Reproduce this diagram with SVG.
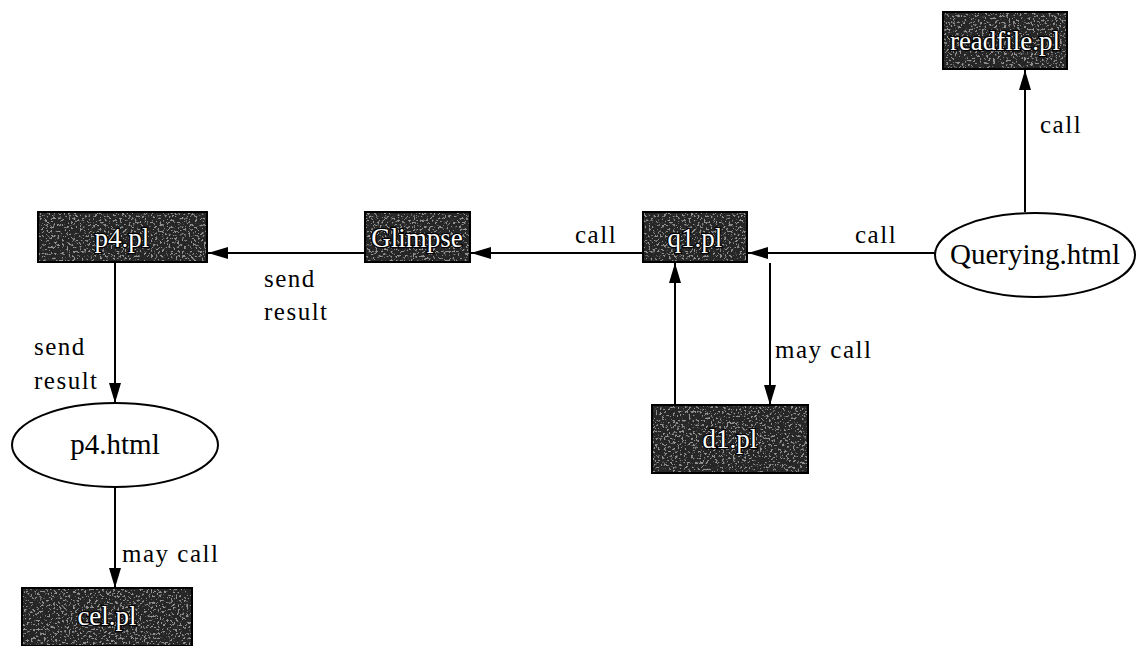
<svg xmlns="http://www.w3.org/2000/svg" width="1137" height="646" viewBox="0 0 1137 646">
<style>
.box{fill:#262626;stroke:#000;stroke-width:2}
.spk{filter:url(#noise);opacity:0.6}
.bt{font-family:"Liberation Serif",serif;font-size:27px;fill:#ffffff;stroke:#000;stroke-width:2.5;paint-order:stroke;text-anchor:middle}
.ell{fill:#fff;stroke:#000;stroke-width:2}
.et{font-family:"Liberation Serif",serif;font-size:29px;fill:#000;text-anchor:middle}
.lbl{font-family:"Liberation Serif",serif;font-size:25px;letter-spacing:1.5px;fill:#000}
.c{stroke:#000;stroke-width:2;fill:none;marker-end:url(#ah)}
</style>
<defs>
<marker id="ah" viewBox="0 0 20 12" refX="20" refY="6" markerWidth="20" markerHeight="12" markerUnits="userSpaceOnUse" orient="auto">
<path d="M0,0 L20,6 L0,12 Z" fill="#000"/>
</marker>
<filter id="noise" x="0" y="0" width="100%" height="100%" color-interpolation-filters="sRGB">
<feTurbulence type="fractalNoise" baseFrequency="0.45" numOctaves="2" seed="5" result="t"/>
<feColorMatrix in="t" type="matrix" values="0 0 0 0 0.85  0 0 0 0 0.85  0 0 0 0 0.85  12 0 0 0 -6.9"/>
</filter>
</defs>
<rect width="1137" height="646" fill="#fff"/>
<g id="connectors">
<line class="c" x1="1025" y1="212" x2="1025" y2="70"/>
<line class="c" x1="935" y1="253" x2="748" y2="253"/>
<line class="c" x1="643" y1="253" x2="471" y2="253"/>
<line class="c" x1="365" y1="253" x2="208" y2="253"/>
<line class="c" x1="115" y1="263" x2="115" y2="403"/>
<line class="c" x1="115" y1="488" x2="115" y2="588"/>
<line class="c" x1="770" y1="263" x2="770" y2="405"/>
<line class="c" x1="675" y1="405" x2="675" y2="263"/>
<text class="lbl" x="1040" y="133">call</text>
<text class="lbl" x="855" y="243">call</text>
<text class="lbl" x="575" y="243">call</text>
<text class="lbl" x="264" y="287">send</text>
<text class="lbl" x="264" y="320">result</text>
<text class="lbl" x="34" y="355">send</text>
<text class="lbl" x="34" y="389">result</text>
<text class="lbl" x="775" y="358">may call</text>
<text class="lbl" x="122" y="562">may call</text>
</g>
<g id="readfile"><rect class="box" x="943" y="12" width="124" height="57"/><rect class="spk" x="944" y="13" width="122" height="55"/><text class="bt" x="1005" y="50">readfile.pl</text></g>
<g id="querying"><ellipse class="ell" cx="1035" cy="255" rx="100" ry="42"/><text class="et" x="1035" y="264">Querying.html</text></g>
<g id="q1"><rect class="box" x="643" y="212" width="104" height="50"/><rect class="spk" x="644" y="213" width="102" height="48"/><text class="bt" x="695" y="247">q1.pl</text></g>
<g id="glimpse"><rect class="box" x="365" y="212" width="105" height="50"/><rect class="spk" x="366" y="213" width="103" height="48"/><text class="bt" x="417" y="247">Glimpse</text></g>
<g id="p4pl"><rect class="box" x="38" y="212" width="169" height="50"/><rect class="spk" x="39" y="213" width="167" height="48"/><text class="bt" x="122" y="247">p4.pl</text></g>
<g id="p4html"><ellipse class="ell" cx="115" cy="445" rx="103" ry="42"/><text class="et" x="115" y="454">p4.html</text></g>
<g id="d1"><rect class="box" x="652" y="405" width="156" height="68"/><rect class="spk" x="653" y="406" width="154" height="66"/><text class="bt" x="730" y="448">d1.pl</text></g>
<g id="cel"><rect class="box" x="22" y="588" width="170" height="58"/><rect class="spk" x="23" y="589" width="168" height="56"/><text class="bt" x="107" y="625">cel.pl</text></g>
</svg>
